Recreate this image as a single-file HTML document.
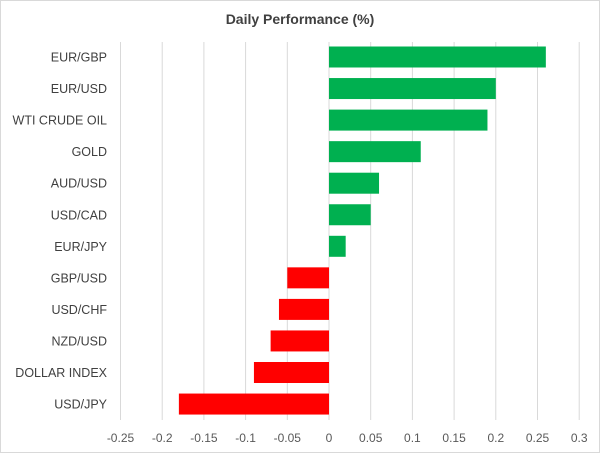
<!DOCTYPE html>
<html><head><meta charset="utf-8"><style>
body{margin:0;background:#fff}
svg{display:block;font-family:"Liberation Sans",Arial,sans-serif}
</style></head><body>
<svg id="c" width="600" height="453">
<rect x="0.5" y="0.5" width="599" height="452" fill="#fff" stroke="#d9d9d9"/>
<text x="300" y="24" text-anchor="middle" font-size="14" font-weight="bold" fill="#404040">Daily Performance (%)</text>
<g id="grid"></g><g id="bars"></g><g id="labels"></g><g id="ticks"></g>
</svg>
<script>
const categories=["EUR/GBP","EUR/USD","WTI CRUDE OIL","GOLD","AUD/USD","USD/CAD","EUR/JPY","GBP/USD","USD/CHF","NZD/USD","DOLLAR INDEX","USD/JPY"];
const values=[0.26,0.20,0.19,0.11,0.06,0.05,0.02,-0.05,-0.06,-0.07,-0.09,-0.18];
const tickValues=[-0.25,-0.2,-0.15,-0.1,-0.05,0,0.05,0.1,0.15,0.2,0.25,0.3];
const tickLabels=["-0.25","-0.2","-0.15","-0.1","-0.05","0","0.05","0.1","0.15","0.2","0.25","0.3"];
const NS="http://www.w3.org/2000/svg";
const x=v=>329+v*834;
const y=i=>57+i*31.55;
function mk(t,a,p){const e=document.createElementNS(NS,t);for(const k in a)e.setAttribute(k,a[k]);p.appendChild(e);return e;}
const g=document.getElementById('grid'),b=document.getElementById('bars'),l=document.getElementById('labels'),tk=document.getElementById('ticks');
tickValues.forEach((v,i)=>{
 const ln=mk('line',{x1:x(v),x2:x(v),y1:42,y2:420,stroke:'#d9d9d9','stroke-width':1},g);
 
 
 const t=mk('text',{x:x(v),y:442,'text-anchor':'middle','font-size':12,fill:'#595959'},tk);
 t.textContent=tickLabels[i];
 
 
});
categories.forEach((c,i)=>{
 const v=values[i];
 const r=mk('rect',{x:Math.min(x(0),x(v)),y:y(i)-10.5,width:Math.abs(x(v)-x(0)),height:21,fill:v>=0?'#00b050':'#ff0000'},b);
 
 
 const t=mk('text',{x:107,y:y(i)+4.5,'text-anchor':'end','font-size':12.5,fill:'#404040'},l);
 t.textContent=c;
 
 
});
</script>
</body></html>
